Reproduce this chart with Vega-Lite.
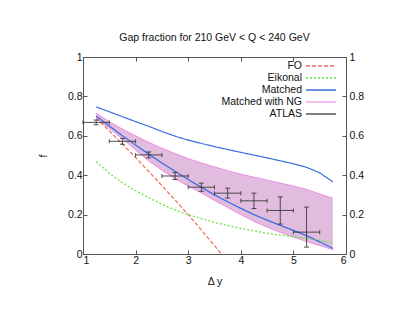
{
  "$schema": "https://vega.github.io/schema/vega-lite/v6.json",
  "width": 263,
  "height": 197,
  "autosize": {"type": "none"},
  "padding": {"left": 83, "top": 57, "right": 65, "bottom": 64},
  "title": {"text": "Gap fraction for 210 GeV < Q < 240 GeV", "fontSize": 10.5, "fontWeight": "normal", "font": "Liberation Sans", "color": "#111", "offset": 9},
  "config": {
    "view": {"stroke": "#555", "strokeWidth": 1},
    "font": "Liberation Sans",
    "axis": {"labelFont": "Liberation Sans", "labelFontSize": 10.5, "labelColor": "#111", "titleFont": "Liberation Sans", "titleFontSize": 10.5, "titleFontWeight": "normal", "titleColor": "#111", "grid": false, "domain": false, "tickColor": "#555", "tickSize": -4, "labelPadding": 5, "format": "~g"},
    "legend": {"labelFont": "Liberation Sans", "labelFontSize": 10.5, "labelColor": "#111"}
  },
  "datasets": {
    "curves": [
      {"x": 1.25, "y": 0.69, "series": "FO"},
      {"x": 1.5, "y": 0.625, "series": "FO"},
      {"x": 1.75, "y": 0.558, "series": "FO"},
      {"x": 2.0, "y": 0.49, "series": "FO"},
      {"x": 2.25, "y": 0.419, "series": "FO"},
      {"x": 2.5, "y": 0.347, "series": "FO"},
      {"x": 2.75, "y": 0.274, "series": "FO"},
      {"x": 3.0, "y": 0.2, "series": "FO"},
      {"x": 3.25, "y": 0.122, "series": "FO"},
      {"x": 3.5, "y": 0.042, "series": "FO"},
      {"x": 3.63, "y": 0.0, "series": "FO"},
      {"x": 1.25, "y": 0.469, "series": "Eikonal"},
      {"x": 1.5, "y": 0.41, "series": "Eikonal"},
      {"x": 1.75, "y": 0.362, "series": "Eikonal"},
      {"x": 2.0, "y": 0.322, "series": "Eikonal"},
      {"x": 2.25, "y": 0.286, "series": "Eikonal"},
      {"x": 2.5, "y": 0.252, "series": "Eikonal"},
      {"x": 2.75, "y": 0.224, "series": "Eikonal"},
      {"x": 3.0, "y": 0.2, "series": "Eikonal"},
      {"x": 3.5, "y": 0.16, "series": "Eikonal"},
      {"x": 4.0, "y": 0.13, "series": "Eikonal"},
      {"x": 4.5, "y": 0.105, "series": "Eikonal"},
      {"x": 5.0, "y": 0.088, "series": "Eikonal"},
      {"x": 5.5, "y": 0.07, "series": "Eikonal"},
      {"x": 5.75, "y": 0.056, "series": "Eikonal"},
      {"x": 1.25, "y": 0.747, "series": "Matched"},
      {"x": 1.5, "y": 0.722, "series": "Matched"},
      {"x": 1.75, "y": 0.697, "series": "Matched"},
      {"x": 2.0, "y": 0.672, "series": "Matched"},
      {"x": 2.25, "y": 0.648, "series": "Matched"},
      {"x": 2.5, "y": 0.622, "series": "Matched"},
      {"x": 2.75, "y": 0.598, "series": "Matched"},
      {"x": 3.0, "y": 0.578, "series": "Matched"},
      {"x": 3.5, "y": 0.545, "series": "Matched"},
      {"x": 4.0, "y": 0.516, "series": "Matched"},
      {"x": 4.5, "y": 0.488, "series": "Matched"},
      {"x": 5.0, "y": 0.458, "series": "Matched"},
      {"x": 5.25, "y": 0.44, "series": "Matched"},
      {"x": 5.5, "y": 0.412, "series": "Matched"},
      {"x": 5.75, "y": 0.366, "series": "Matched"}
    ],
    "band": [
      {"x": 1.25, "lo": 0.688, "hi": 0.715, "mid": 0.7},
      {"x": 1.5, "lo": 0.638, "hi": 0.672, "mid": 0.65},
      {"x": 1.75, "lo": 0.585, "hi": 0.634, "mid": 0.6},
      {"x": 2.0, "lo": 0.528, "hi": 0.6, "mid": 0.553},
      {"x": 2.25, "lo": 0.472, "hi": 0.567, "mid": 0.507},
      {"x": 2.5, "lo": 0.425, "hi": 0.537, "mid": 0.462},
      {"x": 2.75, "lo": 0.382, "hi": 0.51, "mid": 0.42},
      {"x": 3.0, "lo": 0.345, "hi": 0.484, "mid": 0.378},
      {"x": 3.25, "lo": 0.31, "hi": 0.462, "mid": 0.338},
      {"x": 3.5, "lo": 0.272, "hi": 0.442, "mid": 0.3},
      {"x": 3.75, "lo": 0.236, "hi": 0.423, "mid": 0.265},
      {"x": 4.0, "lo": 0.2, "hi": 0.405, "mid": 0.232},
      {"x": 4.25, "lo": 0.166, "hi": 0.39, "mid": 0.2},
      {"x": 4.5, "lo": 0.136, "hi": 0.375, "mid": 0.172},
      {"x": 4.75, "lo": 0.11, "hi": 0.36, "mid": 0.145},
      {"x": 5.0, "lo": 0.086, "hi": 0.345, "mid": 0.12},
      {"x": 5.25, "lo": 0.064, "hi": 0.328, "mid": 0.093},
      {"x": 5.5, "lo": 0.043, "hi": 0.305, "mid": 0.062},
      {"x": 5.75, "lo": 0.022, "hi": 0.283, "mid": 0.028}
    ],
    "atlas": [
      {"x": 1.25, "y": 0.668, "xlo": 1.0, "xhi": 1.5, "ylo": 0.656, "yhi": 0.68},
      {"x": 1.75, "y": 0.572, "xlo": 1.5, "xhi": 2.0, "ylo": 0.557, "yhi": 0.587},
      {"x": 2.25, "y": 0.503, "xlo": 2.0, "xhi": 2.5, "ylo": 0.488, "yhi": 0.518},
      {"x": 2.75, "y": 0.396, "xlo": 2.5, "xhi": 3.0, "ylo": 0.378, "yhi": 0.414},
      {"x": 3.25, "y": 0.339, "xlo": 3.0, "xhi": 3.5, "ylo": 0.318, "yhi": 0.36},
      {"x": 3.75, "y": 0.309, "xlo": 3.5, "xhi": 4.0, "ylo": 0.284, "yhi": 0.334},
      {"x": 4.25, "y": 0.27, "xlo": 4.0, "xhi": 4.5, "ylo": 0.231, "yhi": 0.309},
      {"x": 4.75, "y": 0.221, "xlo": 4.5, "xhi": 5.0, "ylo": 0.152, "yhi": 0.29},
      {"x": 5.25, "y": 0.111, "xlo": 5.0, "xhi": 5.5, "ylo": 0.035, "yhi": 0.238}
    ]
  },
  "resolve": {"axis": {"x": "independent", "y": "independent"}},
  "layer": [
    {
      "data": {"name": "band"},
      "mark": {"type": "area", "color": "#dcb0d8", "opacity": 0.85, "clip": true},
      "encoding": {
        "x": {"field": "x", "type": "quantitative", "scale": {"domain": [1, 6], "nice": false}, "axis": {"orient": "bottom", "values": [1, 2, 3, 4, 5, 6], "title": "Δ y", "titlePadding": 11}},
        "y": {"field": "lo", "type": "quantitative", "scale": {"domain": [0, 1], "nice": false}, "axis": {"orient": "left", "values": [0, 0.2, 0.4, 0.6, 0.8, 1], "title": "f", "titlePadding": 19}},
        "y2": {"field": "hi"}
      }
    },
    {
      "data": {"name": "band"},
      "mark": {"type": "line", "color": "#f08ce6", "strokeWidth": 1, "clip": true},
      "encoding": {
        "x": {"field": "x", "type": "quantitative", "axis": {"orient": "top", "values": [1, 2, 3, 4, 5, 6], "labels": false, "title": null}},
        "y": {"field": "hi", "type": "quantitative", "axis": {"orient": "right", "values": [0, 0.2, 0.4, 0.6, 0.8, 1], "title": null, "labelPadding": 7}}
      }
    },
    {
      "data": {"name": "band"},
      "mark": {"type": "line", "color": "#f08ce6", "strokeWidth": 1, "clip": true},
      "encoding": {
        "x": {"field": "x", "type": "quantitative", "axis": null},
        "y": {"field": "lo", "type": "quantitative", "axis": null}
      }
    },
    {
      "data": {"name": "band"},
      "mark": {"type": "line", "color": "#3b6fe2", "strokeWidth": 1.3, "clip": true},
      "encoding": {
        "x": {"field": "x", "type": "quantitative", "axis": null},
        "y": {"field": "mid", "type": "quantitative", "axis": null}
      }
    },
    {
      "data": {"name": "curves"},
      "mark": {"type": "line", "strokeWidth": 1.2, "clip": true},
      "encoding": {
        "x": {"field": "x", "type": "quantitative", "axis": null},
        "y": {"field": "y", "type": "quantitative", "axis": null},
        "color": {"field": "series", "type": "nominal", "scale": {"domain": ["FO", "Eikonal", "Matched", "Matched with NG", "ATLAS"], "range": ["#f06a5a", "#66e03c", "#3b6fe2", "#f4a6ee", "#555555"]},
          "legend": {"title": null, "orient": "none", "legendX": 137, "legendY": 3, "symbolType": "M-3,0L3,0", "symbolSize": 100, "symbolStrokeWidth": 1.3, "rowPadding": 0, "padding": 0, "labelAlign": "right", "labelOffset": -25, "symbolOffset": 95}},
        "strokeDash": {"field": "series", "type": "nominal", "scale": {"domain": ["FO", "Eikonal", "Matched", "Matched with NG", "ATLAS"], "range": [[4, 2], [2, 2], [1, 0], [1, 0], [1, 0]]},
          "legend": {"title": null, "orient": "none", "legendX": 137, "legendY": 3, "symbolType": "M-3,0L3,0", "symbolSize": 100, "symbolStrokeWidth": 1.3, "rowPadding": 0, "padding": 0, "labelAlign": "right", "labelOffset": -25, "symbolOffset": 95}}
      }
    },
    {
      "data": {"name": "atlas"},
      "mark": {"type": "rule", "color": "#333", "strokeWidth": 1, "opacity": 0.85},
      "encoding": {
        "x": {"field": "xlo", "type": "quantitative", "axis": null},
        "x2": {"field": "xhi"},
        "y": {"field": "y", "type": "quantitative", "axis": null}
      }
    },
    {
      "data": {"name": "atlas"},
      "mark": {"type": "rule", "color": "#333", "strokeWidth": 1, "opacity": 0.85},
      "encoding": {
        "x": {"field": "x", "type": "quantitative", "axis": null},
        "y": {"field": "ylo", "type": "quantitative", "axis": null},
        "y2": {"field": "yhi"}
      }
    },
    {
      "data": {"name": "atlas"},
      "mark": {"type": "tick", "orient": "horizontal", "color": "#333", "size": 5, "thickness": 1, "opacity": 0.85},
      "encoding": {
        "x": {"field": "x", "type": "quantitative", "axis": null},
        "y": {"field": "ylo", "type": "quantitative", "axis": null}
      }
    },
    {
      "data": {"name": "atlas"},
      "mark": {"type": "tick", "orient": "horizontal", "color": "#333", "size": 5, "thickness": 1, "opacity": 0.85},
      "encoding": {
        "x": {"field": "x", "type": "quantitative", "axis": null},
        "y": {"field": "yhi", "type": "quantitative", "axis": null}
      }
    },
    {
      "data": {"name": "atlas"},
      "mark": {"type": "tick", "orient": "vertical", "color": "#333", "size": 4, "thickness": 1, "opacity": 0.85},
      "encoding": {
        "x": {"field": "xlo", "type": "quantitative", "axis": null},
        "y": {"field": "y", "type": "quantitative", "axis": null}
      }
    },
    {
      "data": {"name": "atlas"},
      "mark": {"type": "tick", "orient": "vertical", "color": "#333", "size": 4, "thickness": 1, "opacity": 0.85},
      "encoding": {
        "x": {"field": "xhi", "type": "quantitative", "axis": null},
        "y": {"field": "y", "type": "quantitative", "axis": null}
      }
    }
  ]
}
